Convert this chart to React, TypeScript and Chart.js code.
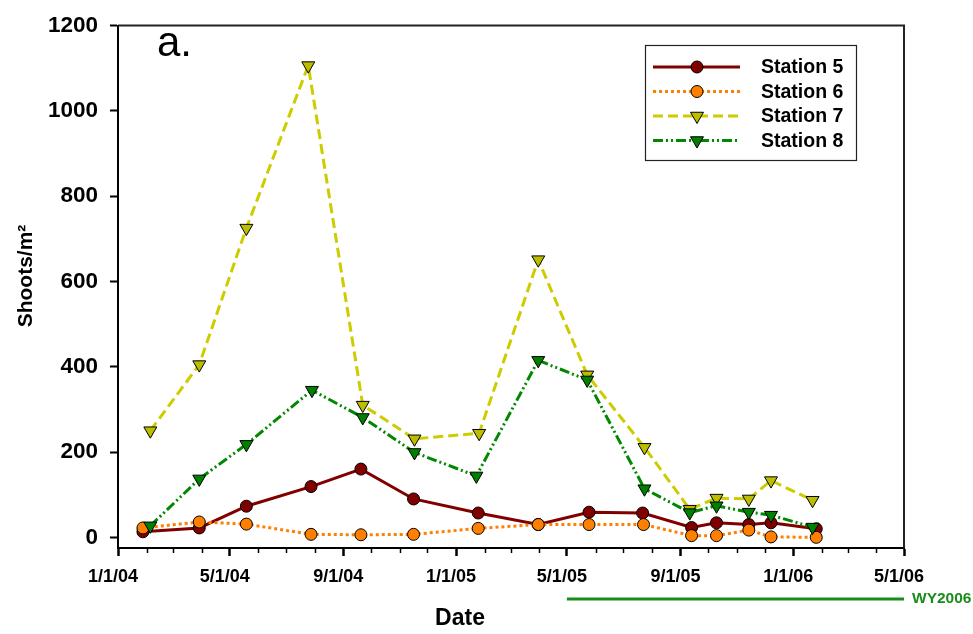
import React, { useEffect, useRef } from 'react';
import { Chart, registerables } from 'chart.js';

Chart.register(...registerables);

const FONT = '"Liberation Sans", Arial, Helvetica, sans-serif';

// ---- data ----
const seriesNames = ['Station 5', 'Station 6', 'Station 7', 'Station 8'];

const station5Dates = ['2004-01-28', '2004-03-29', '2004-05-19', '2004-07-28', '2004-09-20', '2004-11-16', '2005-01-25', '2005-03-31', '2005-05-25', '2005-07-22', '2005-09-13', '2005-10-10', '2005-11-14', '2005-12-08', '2006-01-26'];
const station5Values = [13, 22, 73, 119, 160, 90, 57, 30, 59, 57, 23, 34, 30, 34, 20];

const station6Dates = ['2004-01-28', '2004-03-29', '2004-05-19', '2004-07-28', '2004-09-20', '2004-11-16', '2005-01-25', '2005-03-31', '2005-05-25', '2005-07-23', '2005-09-13', '2005-10-10', '2005-11-14', '2005-12-08', '2006-01-26'];
const station6Values = [22, 36, 31, 7, 6, 7, 21, 30, 30, 30, 4, 4, 17, 1, 0];

const station7Dates = ['2004-02-05', '2004-03-29', '2004-05-19', '2004-07-25', '2004-09-22', '2004-11-17', '2005-01-26', '2005-03-31', '2005-05-23', '2005-07-24', '2005-09-11', '2005-10-10', '2005-11-14', '2005-12-08', '2006-01-22'];
const station7Values = [250, 405, 725, 1106, 310, 231, 244, 651, 381, 211, 66, 92, 90, 133, 87];

const station8Dates = ['2004-02-05', '2004-03-29', '2004-05-19', '2004-07-29', '2004-09-22', '2004-11-17', '2005-01-23', '2005-03-31', '2005-05-23', '2005-07-24', '2005-09-11', '2005-10-10', '2005-11-14', '2005-12-08', '2006-01-22'];
const station8Values = [27, 137, 218, 345, 281, 199, 144, 415, 369, 114, 58, 74, 59, 52, 24];

const xMajorTickDates = ['2004-01-01', '2004-05-01', '2004-09-01', '2005-01-01', '2005-05-01', '2005-09-01', '2006-01-01', '2006-05-01'];
const xMajorTickLabels = ['1/1/04', '5/1/04', '9/1/04', '1/1/05', '5/1/05', '9/1/05', '1/1/06', '5/1/06'];
const yTickValues = [0, 200, 400, 600, 800, 1000, 1200];

const wyStart = '2005-05-01';
const wyEnd = '2006-05-01';
const wyLabel = 'WY2006';

// ---- helpers ----
const t = (s: string) => Date.parse(s + 'T00:00:00Z');
const X_MIN = t(xMajorTickDates[0]);
const X_MAX = t(xMajorTickDates[xMajorTickDates.length - 1]);
const majorTimes = xMajorTickDates.map(t);

const monthTimes: number[] = [];
for (let y = 2004; y <= 2006; y++) {
  for (let m = 0; m < 12; m++) {
    const v = Date.UTC(y, m, 1);
    if (v >= X_MIN && v <= X_MAX) monthTimes.push(v);
  }
}
const majorIndex = (v: number) => majorTimes.findIndex((m) => Math.abs(m - v) < 3600000);

const pts = (dates: string[], vals: number[]) => dates.map((d, i) => ({ x: t(d), y: vals[i] }));

const styles = [
  { line: '#800000', fill: '#800000', dash: [] as number[], shape: 'circle', width: 3 },
  { line: '#FF8000', fill: '#FF8000', dash: [3, 3], shape: 'circle', width: 3 },
  { line: '#CCCC00', fill: '#BDBD00', dash: [10, 5], shape: 'tri', width: 3 },
  { line: '#008800', fill: '#008000', dash: [10, 3, 2, 3, 2, 3], shape: 'tri', width: 3 },
];

function drawMarker(ctx: CanvasRenderingContext2D, shape: string, x: number, y: number, fill: string) {
  ctx.save();
  ctx.setLineDash([]);
  ctx.beginPath();
  if (shape === 'circle') {
    ctx.arc(x, y, 6, 0, Math.PI * 2);
  } else {
    const r = 7.5;
    const s = r * Math.sin(Math.PI / 3);
    ctx.moveTo(x, y + r);
    ctx.lineTo(x - s, y - r / 2);
    ctx.lineTo(x + s, y - r / 2);
    ctx.closePath();
  }
  ctx.fillStyle = fill;
  ctx.fill();
  ctx.lineWidth = 1;
  ctx.strokeStyle = '#000';
  ctx.stroke();
  ctx.restore();
}

const decorPlugin = {
  id: 'decor',
  afterDraw(chart: any) {
    const { ctx, chartArea } = chart;
    const xs = chart.scales.x;
    const { left, right, top, bottom } = chartArea;
    ctx.save();
    // frame (top + right)
    ctx.strokeStyle = '#222';
    ctx.lineWidth = 2;
    ctx.setLineDash([]);
    ctx.beginPath();
    ctx.moveTo(left, top);
    ctx.lineTo(right, top);
    ctx.lineTo(right, bottom);
    ctx.stroke();

    // minor ticks
    ctx.strokeStyle = '#000';
    ctx.lineWidth = 1.5;
    monthTimes.forEach((v) => {
      if (majorIndex(v) >= 0) return;
      const px = Math.round(xs.getPixelForValue(v)) + 0.5;
      ctx.beginPath();
      ctx.moveTo(px, bottom);
      ctx.lineTo(px, bottom + 5);
      ctx.stroke();
    });

    // WY2006 bar
    const wx0 = xs.getPixelForValue(t(wyStart));
    const wx1 = xs.getPixelForValue(t(wyEnd));
    ctx.strokeStyle = '#1A8C1A';
    ctx.lineWidth = 3;
    ctx.beginPath();
    ctx.moveTo(wx0, 599);
    ctx.lineTo(wx1, 599);
    ctx.stroke();
    ctx.fillStyle = '#1A8C1A';
    ctx.font = `bold 15.5px ${FONT}`;
    ctx.textAlign = 'left';
    ctx.textBaseline = 'middle';
    ctx.fillText(wyLabel, wx1 + 8, 599);

    // axis titles
    ctx.fillStyle = '#000';
    ctx.font = `bold 23px ${FONT}`;
    ctx.textAlign = 'center';
    ctx.textBaseline = 'middle';
    ctx.fillText('Date', 460, 619);
    ctx.save();
    ctx.translate(26, 276);
    ctx.rotate(-Math.PI / 2);
    ctx.font = `bold 21px ${FONT}`;
    ctx.fillText('Shoots/m²', 0, 0);
    ctx.restore();

    // panel label
    ctx.font = `42px ${FONT}`;
    ctx.textAlign = 'left';
    ctx.textBaseline = 'alphabetic';
    ctx.fillText('a.', 157, 56);

    // legend
    ctx.fillStyle = '#fff';
    ctx.fillRect(645.5, 45.5, 211, 115);
    ctx.strokeStyle = '#222';
    ctx.lineWidth = 1.2;
    ctx.strokeRect(645.5, 45.5, 211, 115);
    const rowsY = [67, 91.5, 116, 140.5];
    seriesNames.forEach((name, i) => {
      const st = styles[i];
      const y = rowsY[i];
      ctx.strokeStyle = st.line;
      ctx.lineWidth = st.width;
      ctx.setLineDash(st.dash);
      ctx.beginPath();
      ctx.moveTo(653, y);
      ctx.lineTo(740, y);
      ctx.stroke();
      ctx.setLineDash([]);
      drawMarker(ctx, st.shape, 697, y, st.fill);
      ctx.fillStyle = '#000';
      ctx.font = `bold 19.5px ${FONT}`;
      ctx.textAlign = 'left';
      ctx.textBaseline = 'middle';
      ctx.fillText(name, 761, y + 1);
    });
    ctx.restore();
  },
};

export default function App() {
  const ref = useRef<HTMLCanvasElement>(null);
  useEffect(() => {
    const allData = [
      pts(station5Dates, station5Values),
      pts(station6Dates, station6Values),
      pts(station7Dates, station7Values),
      pts(station8Dates, station8Values),
    ];
    const datasets = allData.map((d, i) => {
      const st = styles[i];
      return {
        label: seriesNames[i],
        data: d,
        borderColor: st.line,
        borderWidth: st.width,
        borderDash: st.dash,
        backgroundColor: st.fill,
        pointBackgroundColor: st.fill,
        pointBorderColor: '#000',
        pointBorderWidth: 1,
        pointStyle: st.shape === 'circle' ? 'circle' : 'triangle',
        pointRotation: st.shape === 'circle' ? 0 : 180,
        pointRadius: st.shape === 'circle' ? 6 : 7.5,
        pointHoverRadius: st.shape === 'circle' ? 6 : 7.5,
        tension: 0,
        fill: false,
        order: 4 - i,
        clip: false as any,
      };
    });
    const chart = new Chart(ref.current as HTMLCanvasElement, {
      type: 'line',
      data: { datasets } as any,
      options: {
        animation: false,
        responsive: false,
        devicePixelRatio: 1,
        layout: { padding: { top: 15, right: 69, left: 0, bottom: 0 } },
        plugins: { legend: { display: false }, tooltip: { enabled: false } },
        scales: {
          x: {
            type: 'linear',
            min: X_MIN,
            max: X_MAX,
            afterBuildTicks: (s: any) => {
              s.ticks = monthTimes.map((v) => ({ value: v }));
            },
            afterFit: (s: any) => {
              s.height = 86;
            },
            ticks: {
              autoSkip: false,
              maxRotation: 0,
              minRotation: 0,
              padding: 10,
              labelOffset: -5,
              color: '#000',
              font: { family: FONT, size: 18, weight: 'bold' },
              callback: (v: any) => {
                const i = majorIndex(Number(v));
                return i >= 0 ? xMajorTickLabels[i] : '';
              },
            },
            grid: {
              drawOnChartArea: false,
              drawTicks: true,
              tickLength: 8,
              tickWidth: 2.5,
              tickColor: (c: any) => (c.tick && majorIndex(c.tick.value) >= 0 ? '#000' : 'rgba(0,0,0,0)'),
            },
            border: { display: true, color: '#000', width: 2 },
          },
          y: {
            type: 'linear',
            min: -25,
            max: 1200,
            afterBuildTicks: (s: any) => {
              s.ticks = yTickValues.map((v) => ({ value: v }));
            },
            afterFit: (s: any) => {
              s.width = 118;
            },
            ticks: {
              padding: 12,
              color: '#000',
              font: { family: FONT, size: 22.5, weight: 'bold' },
              callback: (v: any) => String(v),
            },
            grid: {
              drawOnChartArea: false,
              drawTicks: true,
              tickLength: 8,
              tickWidth: 2,
              tickColor: '#000',
            },
            border: { display: true, color: '#000', width: 2 },
          },
        },
      } as any,
      plugins: [decorPlugin],
    });
    return () => chart.destroy();
  }, []);
  return (
    <div style={{ position: 'absolute', left: 0, top: 0, width: 973, height: 634, background: '#fff' }}>
      <canvas ref={ref} width={973} height={634} style={{ display: 'block', width: 973, height: 634 }} />
    </div>
  );
}
